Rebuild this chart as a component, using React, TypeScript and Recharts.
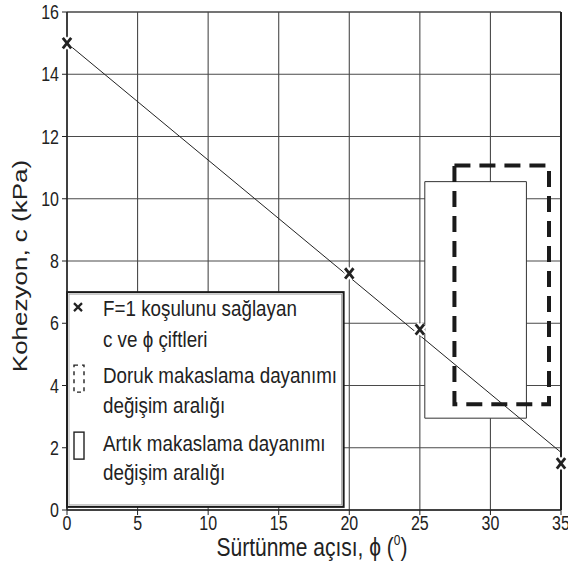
import {
  ComposedChart,
  CartesianGrid,
  Line,
  ReferenceArea,
  ReferenceLine,
  Scatter,
  XAxis,
  YAxis,
} from "recharts";

// the source figure is a little stretched vertically, text too
const S = 1.22;
const FONT = '"Liberation Sans", Arial, Helvetica, sans-serif';
const INK = "#222";

const xTicks = [0, 5, 10, 15, 20, 25, 30, 35];
const yTicks = [0, 2, 4, 6, 8, 10, 12, 14, 16];

// c - phi pairs that satisfy F=1
const pairPhi = [0, 20, 25, 35];
const pairC = [15, 7.6, 5.8, 1.5];

// straight line through the pairs
const fitPhi = [0, 35];
const fitC = [15, 1.85];

// peak (dashed) and residual (solid) strength ranges
const peakPhi = [27.45, 34.15];
const peakC = [3.4, 11.07];
const residualPhi = [25.35, 32.55];
const residualC = [2.95, 10.55];

// legend box range
const legendPhi = [0, 19.6];
const legendC = [0.1, 7.0];
const legendLines = [
  ["F=1 koşulunu sağlayan", "c ve ϕ çiftleri"],
  ["Doruk makaslama dayanımı", "değişim aralığı"],
  ["Artık makaslama dayanımı", "değişim aralığı"],
];

const pairs = pairPhi.map((phi, i) => ({ phi, c: pairC[i] }));
const fit = fitPhi.map((phi, i) => ({ phi, c: fitC[i] }));

function STxt({ x, y, size, anchor = "start", dy, children, rotate, s = S }: any) {
  const tr = `translate(${x},${y}) scale(1,${s})${rotate ? ` rotate(${rotate})` : ""}`;
  return (
    <text
      transform={tr}
      textAnchor={anchor}
      dy={dy}
      fontSize={size}
      fontFamily={FONT}
      fill={INK}
    >
      {children}
    </text>
  );
}

function YTick(props: any) {
  const { x, y, payload } = props;
  return (
    <STxt x={x - 1} y={y} size={16} anchor="end" dy="0.36em">
      {payload.value}
    </STxt>
  );
}

function XTick(props: any) {
  const { x, y, payload } = props;
  return (
    <STxt x={x} y={y - 1} size={16} anchor="middle" dy="0.72em">
      {payload.value}
    </STxt>
  );
}

function Cross(props: any) {
  const { cx, cy } = props;
  const w = 4.2;
  const h = 5.2;
  const d = `M${cx - w},${cy - h}L${cx + w},${cy + h}M${cx - w},${cy + h}L${cx + w},${cy - h}`;
  return (
    <g>
      <path d={d} stroke="#fff" strokeWidth={7} />
      <path d={d} stroke={INK} strokeWidth={2.8} />
    </g>
  );
}

function LegendBox(props: any) {
  const { x, y, width, height } = props;
  const tx = x + 36;
  const rows = [y + 24, y + 55, y + 91, y + 121, y + 159, y + 188];
  return (
    <g>
      <rect x={x} y={y} width={width} height={height} fill="#fff" stroke="#1a1a1a" strokeWidth={2} />
      <rect x={x + 2} y={y + 2} width={width - 4} height={height - 4} fill="none" stroke="#999" strokeWidth={0.8} />
      {/* cross */}
      <path
        d={`M${x + 7},${y + 11}L${x + 15},${y + 19}M${x + 7},${y + 19}L${x + 15},${y + 11}`}
        stroke={INK}
        strokeWidth={2.2}
      />
      {/* dashed icon */}
      <rect x={x + 7} y={y + 73} width={10} height={27} fill="none" stroke={INK} strokeWidth={1.4} strokeDasharray="4 4" />
      {/* solid icon */}
      <rect x={x + 7} y={y + 140} width={10} height={27} fill="none" stroke={INK} strokeWidth={1.4} />
      {legendLines.flat().map((t, i) => (
        <STxt key={i} x={tx} y={rows[i]} size={18.8}>
          {t}
        </STxt>
      ))}
    </g>
  );
}

export default function App() {
  return (
    <div style={{ position: "absolute", left: 0, top: 0, background: "#fff" }}>
      <ComposedChart
        width={568}
        height={566}
        margin={{ top: 12, right: 7, bottom: 0, left: 0 }}
      >
        <CartesianGrid stroke="#4a4a4a" strokeWidth={1.1} />
        <XAxis
          dataKey="phi"
          type="number"
          domain={[0, 35]}
          ticks={xTicks}
          interval={0}
          height={56}
          tick={XTick}
          tickSize={5}
          axisLine={{ stroke: INK, strokeWidth: 1.5 }}
          tickLine={{ stroke: INK }}
          label={{
            content: () => (
              <text
                transform={`translate(312,556) scale(1,${S})`}
                textAnchor="middle"
                fontSize={21}
                fontFamily={FONT}
                fill={INK}
              >
                Sürtünme açısı, ϕ (
                <tspan fontSize={12} dy={-9}>0</tspan>
                <tspan dy={9}>)</tspan>
              </text>
            ),
          }}
        />
        <YAxis
          type="number"
          domain={[0, 16]}
          ticks={yTicks}
          interval={0}
          width={67}
          tick={YTick}
          tickSize={5}
          axisLine={{ stroke: INK, strokeWidth: 1.5 }}
          tickLine={{ stroke: INK }}
          label={{
            content: () => (
              <STxt x={27} y={266} size={20} anchor="middle" rotate={-90} s={1.3}>
                Kohezyon, c (kPa)
              </STxt>
            ),
          }}
        />
        <ReferenceLine y={16} stroke="#444" strokeWidth={1.2} />
        <ReferenceLine x={35} stroke={INK} strokeWidth={2} />
        <ReferenceArea
          x1={residualPhi[0]}
          x2={residualPhi[1]}
          y1={residualC[0]}
          y2={residualC[1]}
          fill="#fff"
          fillOpacity={1}
          stroke="#333"
          strokeWidth={1}
        />
        <ReferenceArea
          x1={peakPhi[0]}
          x2={peakPhi[1]}
          y1={peakC[0]}
          y2={peakC[1]}
          fill="none"
          stroke="#1a1a1a"
          strokeWidth={4}
          strokeDasharray="16 9"
        />
        <ReferenceArea
          x1={legendPhi[0]}
          x2={legendPhi[1]}
          y1={legendC[0]}
          y2={legendC[1]}
          shape={LegendBox}
        />
        <Line
          data={fit}
          dataKey="c"
          type="linear"
          stroke={INK}
          strokeWidth={1}
          dot={false}
          activeDot={false}
          isAnimationActive={false}
        />
        <Scatter
          data={pairs}
          dataKey="c"
          shape={Cross}
          isAnimationActive={false}
        />
      </ComposedChart>
    </div>
  );
}
